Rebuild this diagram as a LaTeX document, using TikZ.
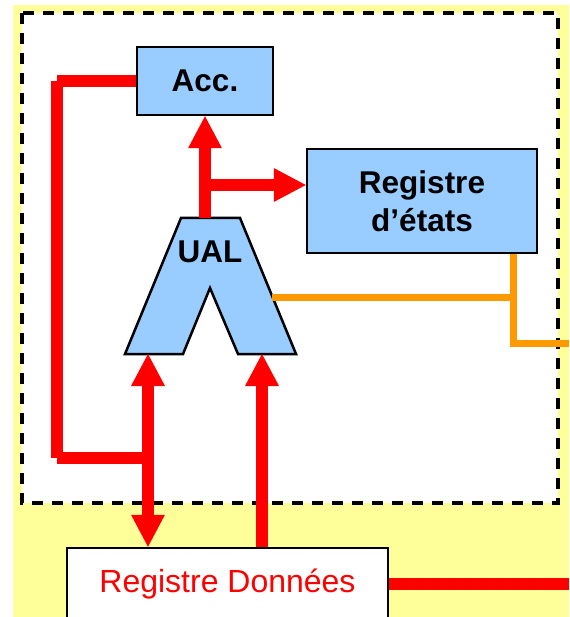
\documentclass[tikz,border=0pt]{standalone}
\usepackage{fontspec}
\setmainfont{Liberation Sans}
\usetikzlibrary{arrows.meta, positioning}
\definecolor{fond}{HTML}{FFFF99}
\definecolor{bleu}{HTML}{99CCFF}
\definecolor{flagorange}{HTML}{FF9900}

\begin{document}
\begin{tikzpicture}[
  x=1pt, y=-1pt,
  box/.style={draw, line width=2.5pt, fill=bleu, align=center, inner sep=0pt, font=\fontsize{31.5}{38}\selectfont\bfseries},
  bus/.style={draw=red, line width=12pt},
  head/.style={-{Triangle[length=32pt, width=34pt, line width=0pt]}},
  flag/.style={draw=flagorange, line width=7pt}
]
\useasboundingbox (0,0) rectangle (569,617);
\fill[fond] (13,5) rectangle (569,617);
\draw[fill=white, line width=3.5pt, dash pattern=on 11pt off 9pt] (22,13) rectangle (558,503);

\node[box, minimum width=136pt, minimum height=68pt] (acc) at (205,81) {Acc.};
\node[box, minimum width=230pt, minimum height=104pt] (etats) at (422,201) {Registre\\d’états};
\node[box, fill=white, text=red, minimum width=321pt, minimum height=72pt, font=\fontsize{32}{38}\selectfont] (donnees) at (227.5,584) {Registre Données};

% UAL
\draw[line width=2.5pt, fill=bleu, line join=miter] (181,218) -- (240,218) -- (296,354) -- (238,354) -- (210,288) -- (183,354) -- (125,354) -- cycle;
\node[font=\fontsize{31.5}{38}\selectfont\bfseries] (ual) at (210,252) {UAL};
\coordinate (ualout) at (205,218);
\coordinate (fork) at (205,185);
\coordinate (ualinL) at (148,354);
\coordinate (ualinR) at (262,354);
\coordinate (ualflag) at (272,297);
\coordinate (boucle) at (57,458);
\coordinate (busout) at (569,584);
\coordinate (flagnode) at (513,297);
\coordinate (flagout) at (569,343);

\draw[flag] (ualflag) -- (flagnode);
\draw[flag] (etats.south -| flagnode) |- (flagout);

\draw[bus, head] (ualout) -- (acc.south);
\draw[bus, head] (fork) -- (fork -| etats.west);
\draw[bus] (acc.west) -- (acc.west -| boucle);
\draw[bus] (acc.west -| boucle) -- (boucle);
\draw[bus] (boucle) -- (boucle -| ualinL);
\draw[bus, {Triangle[length=32pt, width=34pt, line width=0pt]}-{Triangle[length=32pt, width=34pt, line width=0pt]}] (ualinL) -- (donnees.north -| ualinL);
\draw[bus, head] (donnees.north -| ualinR) -- (ualinR);
\draw[bus] (donnees.east) -- (busout);
\end{tikzpicture}
\end{document}
